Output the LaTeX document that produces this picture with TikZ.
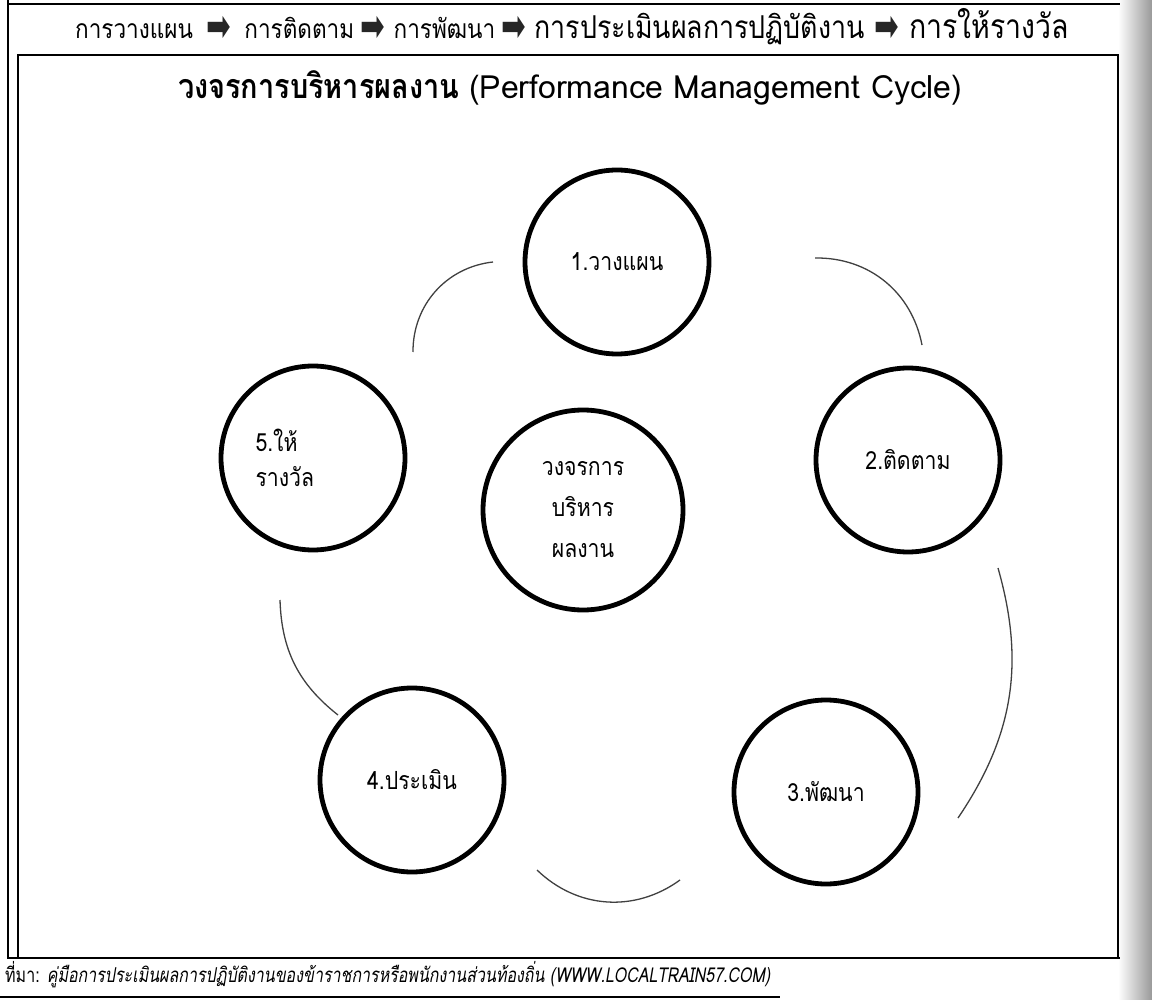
\documentclass[tikz,border=0pt]{standalone}
\usepackage{graphicx}
\usepackage{fontspec}
\setmainfont[Script=Thai,FakeStretch=0.85]{Loma}
\newfontfamily\widefont[Script=Thai]{Loma}
\newfontfamily\sourcefont[Script=Thai,FakeStretch=0.78]{Loma}
\newfontfamily\arrowfont{DejaVu Sans}
\newcommand{\fatarrow}{\raisebox{-3pt}{\scalebox{1.05}[1.6]{➡}}}
\usetikzlibrary{positioning}

\begin{document}
\begin{tikzpicture}[x=1pt,y=-1pt,
  stage/.style={circle,draw,line width=4.8pt,minimum size=184pt,inner sep=0pt,
    align=center,font=\fontsize{25}{35}\selectfont},
  hub/.style={stage,minimum size=200pt,font=\fontsize{25}{41}\selectfont},
  cyclearc/.style={line width=1.3pt,black!75},
  headtext/.style={inner sep=0pt},
  headarrow/.style={font=\arrowfont\fontsize{28}{30}\selectfont,text=black!85,inner sep=0pt}]
  \useasboundingbox (0,0) rectangle (1152,1000);
  \fill[white] (0,0) rectangle (1152,1000);
  \shade[left color=white,right color=black!40] (1118,0) rectangle (1152,1000);

  % frame of the table and of the chart
  \draw[line width=1.5pt] (8,0) -- (8,958) -- (1120,958);
  \draw[line width=1.2pt] (8,4) -- (1120,4);
  \draw[line width=1.5pt] (18,958) -- (18,55) -- (1118,55) -- (1118,958);
  \draw[line width=1.2pt] (0,997) -- (780,997);

  % header row
  \node[headtext,anchor=base west,font=\fontsize{26.5}{28}\selectfont] (hplan) at (75,39) {การวางแผน};
  \node[headarrow,base right=13pt of hplan] (harr1) {\fatarrow};
  \node[headtext,base right=13pt of harr1,font=\fontsize{26.5}{28}\selectfont] (hfollow) {การติดตาม};
  \node[headarrow,base right=6pt of hfollow] (harr2) {\fatarrow};
  \node[headtext,base right=8pt of harr2,font=\fontsize{26.5}{28}\selectfont] (hdevelop) {การพัฒนา};
  \node[headarrow,base right=6pt of hdevelop] (harr3) {\fatarrow};
  \node[headtext,base right=8pt of harr3,font=\fontsize{31.5}{33}\selectfont] (hassess) {การประเมินผลการปฏิบัติงาน};
  \node[headarrow,base right=9pt of hassess] (harr4) {\fatarrow};
  \node[headtext,base right=10pt of harr4,font=\fontsize{33.5}{34}\selectfont] (hreward) {การให้รางวัล};

  \node[font=\fontsize{34}{36}\selectfont] (title) at (570,88)
    {\textbf{วงจรการบริหารผลงาน} {\widefont\fontsize{32}{36}\selectfont (Performance Management Cycle)}};

  % the cycle
  \node[hub] (hub) at (583,510) {วงจรการ\\บริหาร\\ผลงาน};
  \node[stage] (plan) at (617,262) {1.วางแผน};
  \node[stage] (follow) at (908,460) {2.ติดตาม};
  \node[stage] (develop) at (826,792) {3.พัฒนา};
  \node[stage] (assess) at (412,780) {4.ประเมิน};
  \node[stage,text width=115pt,align=left] (reward) at (313,458) {5.ให้\\รางวัล};

  \coordinate (rout) at (413,352); \coordinate (pin) at (493,262);
  \coordinate (pout) at (815,258); \coordinate (fin) at (922,345);
  \coordinate (fout) at (998,568); \coordinate (din) at (958,818);
  \coordinate (dout) at (680,880); \coordinate (ain) at (537,870);
  \coordinate (aout) at (338,715); \coordinate (rin) at (280,600);
  \draw[cyclearc] (rout) to[bend left=42] (pin);
  \draw[cyclearc] (pout) to[bend left=40] (fin);
  \draw[cyclearc] (fout) to[bend left=25] (din);
  \draw[cyclearc] (dout) to[bend left=40] (ain);
  \draw[cyclearc] (aout) to[bend left=25] (rin);

  % source line
  \node[anchor=west,inner sep=0pt,font=\sourcefont\fontsize{20.5}{22}\selectfont] (source) at (5,975)
    {ที่มา: \textit{คู่มือการประเมินผลการปฏิบัติงานของข้าราชการหรือพนักงานส่วนท้องถิ่น (WWW.LOCALTRAIN57.COM)}};
\end{tikzpicture}
\end{document}
